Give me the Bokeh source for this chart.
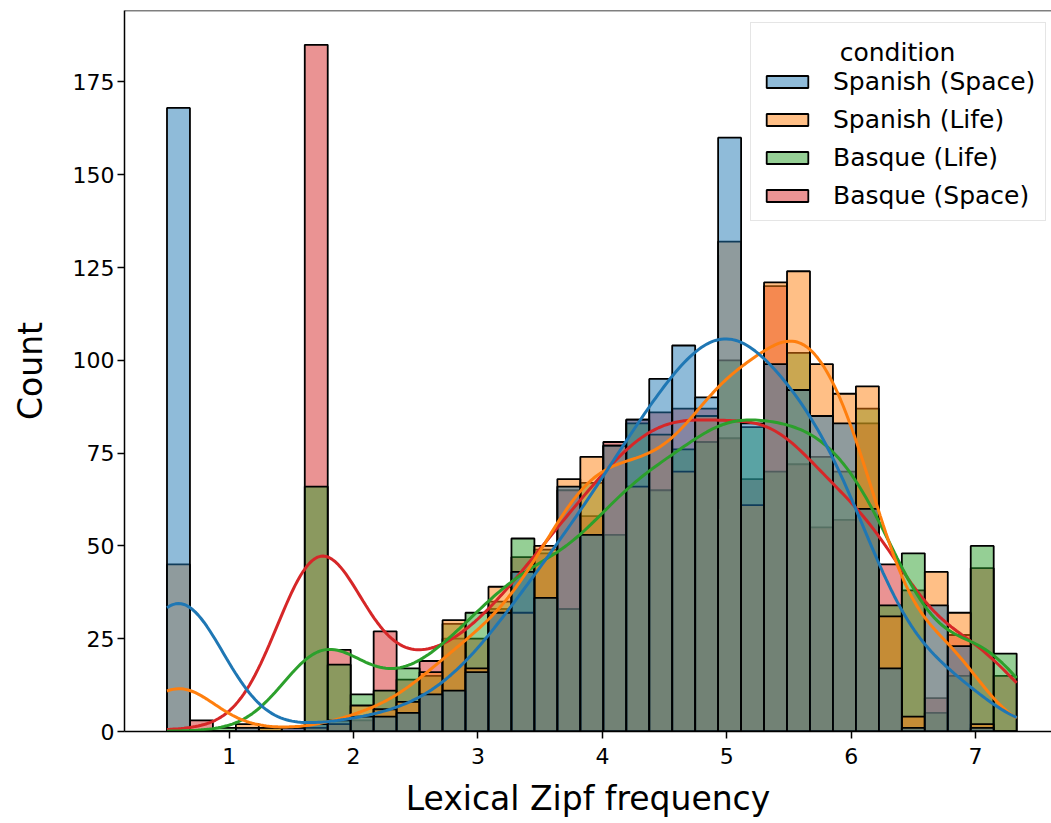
import numpy as np
from bokeh.plotting import figure
from bokeh.models import Legend, LegendItem, Range1d, Span, FixedTicker, Label
from bokeh.embed import file_html
from bokeh.resources import INLINE

# Histogram bins shared by every condition (Zipf scale)
zipf_lo, zipf_hi, n_bins = 0.50, 7.33, 37

conditions = ["Spanish (Space)", "Spanish (Life)", "Basque (Life)", "Basque (Space)"]
colors = ["#1f77b4", "#ff7f0e", "#2ca02c", "#d62728"]

# Word counts per bin, one list per condition
spanish_space = [168, 0, 0, 1, 0, 1, 2, 3, 4, 4, 5, 10, 11, 16, 32, 43, 36, 66, 53, 77,
                 84, 95, 104, 90, 160, 83, 99, 92, 85, 83, 60, 17, 1, 34, 23, 1, 0]
spanish_life = [45, 0, 0, 2, 1, 0, 1, 2, 7, 6, 8, 16, 30, 17, 39, 32, 50, 68, 74, 77,
                66, 80, 70, 85, 132, 61, 121, 124, 99, 91, 93, 31, 4, 43, 32, 2, 0]
basque_life = [0, 0, 1, 0, 1, 0, 66, 18, 10, 11, 17, 15, 29, 32, 35, 52, 49, 33, 67, 53,
               83, 65, 76, 78, 100, 82, 70, 102, 74, 70, 87, 34, 48, 5, 15, 50, 21]
basque_space = [0, 3, 0, 0, 0, 1, 185, 22, 3, 27, 14, 19, 25, 25, 33, 47, 48, 65, 58, 78,
                84, 86, 87, 87, 79, 68, 120, 72, 55, 57, 83, 45, 38, 9, 26, 44, 15]

series = [spanish_space, spanish_life, basque_life, basque_space]

xticks = [1, 2, 3, 4, 5, 6, 7]
yticks = [0, 25, 50, 75, 100, 125, 150, 175]

edges = np.linspace(zipf_lo, zipf_hi, n_bins + 1)
centers = 0.5 * (edges[:-1] + edges[1:])
bin_w = edges[1] - edges[0]


def kde_counts(counts):
    """Gaussian KDE (Scott bandwidth) scaled to counts, limited to the data range."""
    w = np.asarray(counts, dtype=float)
    n = w.sum()
    mean = (w * centers).sum() / n
    var = (w * (centers - mean) ** 2).sum() / (n - 1) + bin_w ** 2 / 12.0
    h = np.sqrt(var) * n ** (-0.2)
    grid = np.linspace(edges[0], edges[-1], 300)
    z = (grid[:, None] - centers[None, :]) / h
    dens = (w[None, :] * np.exp(-0.5 * z ** 2)).sum(axis=1) / (n * h * np.sqrt(2 * np.pi))
    return grid, dens * n * bin_w


FONT = "DejaVu Sans"
y_top = max(max(s) for s in series) * 1.05
x_pad = 0.05 * (zipf_hi - zipf_lo)

p = figure(width=1051, height=823,
           x_range=Range1d(zipf_lo - x_pad, 7.61), y_range=Range1d(0, y_top),
           output_backend="svg", toolbar_location=None,
           min_border_left=124, min_border_right=0, min_border_top=10, min_border_bottom=92)
p.outline_line_color = None
p.grid.visible = False
p.background_fill_color = "white"
p.border_fill_color = "white"

# layered histograms, last condition drawn first
bar_renderers = {}
for name, counts, color in reversed(list(zip(conditions, series, colors))):
    r = p.quad(left=edges[:-1], right=edges[1:], bottom=0, top=counts,
               fill_color=color, fill_alpha=0.5, line_color="black", line_width=1.8)
    bar_renderers[name] = r

for name, counts, color in reversed(list(zip(conditions, series, colors))):
    gx, gy = kde_counts(counts)
    p.line(gx, gy, line_color=color, line_width=3)

# top spine
p.add_layout(Span(location=y_top, dimension="width", line_color="black", line_width=1.5))

for ax in (p.xaxis, p.yaxis):
    ax.axis_line_width = 1.5
    ax.axis_line_color = "black"
    ax.major_tick_line_width = 1.5
    ax.major_tick_line_color = "black"
    ax.major_tick_out = 7
    ax.major_tick_in = 0
    ax.minor_tick_line_color = None
    ax.major_label_text_font = FONT
    ax.major_label_text_font_size = "22px"
    ax.major_label_text_color = "black"
    ax.axis_label_text_font = FONT
    ax.axis_label_text_font_size = "33px"
    ax.axis_label_text_font_style = "normal"
    ax.axis_label_text_color = "black"

p.xaxis.ticker = FixedTicker(ticks=xticks)
p.yaxis.ticker = FixedTicker(ticks=yticks)
p.xaxis.axis_label = "Lexical Zipf frequency"
p.yaxis.axis_label = "Count"
p.xaxis.major_label_standoff = 9
p.yaxis.major_label_standoff = 3
p.xaxis.axis_label_standoff = 12
p.yaxis.axis_label_standoff = 20

# legend box; its heading is drawn centred by a separate label
legend = Legend(
    items=[LegendItem(label=name, renderers=[bar_renderers[name]]) for name in conditions],
    location=(626, 510), title=" ",
)
legend.title_text_font = FONT
legend.title_text_font_size = "25px"
legend.title_standoff = 5
legend.label_text_font = FONT
legend.label_text_font_size = "25px"
legend.label_text_color = "black"
legend.label_standoff = 20
legend.glyph_width = 52
legend.glyph_height = 15
legend.spacing = 9
legend.padding = 10
legend.margin = 0
legend.border_line_color = "#cccccc"
legend.border_line_width = 1
legend.background_fill_color = None
p.add_layout(legend)

heading = Label(x=6.372, y=182.9, text="condition", text_align="center",
                text_baseline="alphabetic", text_font=FONT, text_font_size="25px",
                text_color="black", level="overlay")
p.add_layout(heading)

open("out.html", "w").write(file_html(p, INLINE))
